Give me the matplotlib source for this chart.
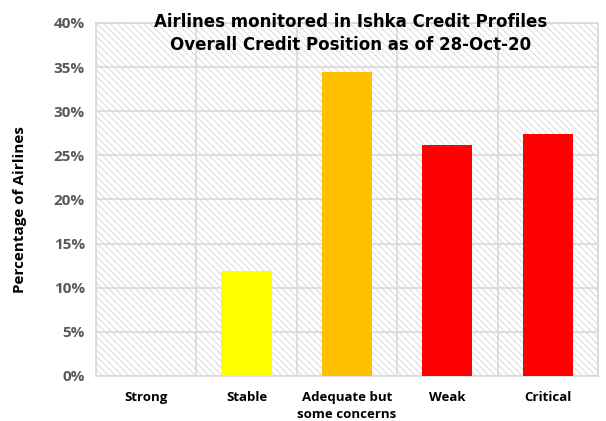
import matplotlib
matplotlib.use("Agg")
import matplotlib.pyplot as plt
from matplotlib.ticker import PercentFormatter, FixedLocator
from matplotlib.patches import Rectangle

categories = ["Strong", "Stable", "Adequate but\nsome concerns", "Weak", "Critical"]
values = [0.0, 11.9, 34.5, 26.2, 27.4]
colors = ["#FFFF00", "#FFFF00", "#FFC000", "#FF0000", "#FF0000"]
yticks = [0, 5, 10, 15, 20, 25, 30, 35, 40]

plt.rcParams['hatch.color'] = '#dedede'
plt.rcParams['hatch.linewidth'] = 0.8

fig = plt.figure(figsize=(6.06, 4.21), dpi=100)
ax = fig.add_axes([0.1584, 0.1069, 0.8284, 0.8385])

n = len(categories)
ax.set_xlim(-0.5, n - 0.5)
ax.set_ylim(0, 40)

# hatched background
bg = Rectangle((0, 0), 1, 1, transform=ax.transAxes, facecolor='white',
               edgecolor='#dedede', hatch='\\\\\\\\\\', linewidth=0, zorder=0)
ax.add_patch(bg)

x = list(range(n))
ax.bar(x, values, width=0.5, color=colors, zorder=3)

ax.set_yticks(yticks)
ax.yaxis.set_major_formatter(PercentFormatter(decimals=0))
ax.set_xticks(x)
ax.set_xticklabels(categories)
ax.xaxis.set_minor_locator(FixedLocator([i - 0.5 for i in range(n + 1)]))

ax.grid(axis='y', which='major', color='#d9d9d9', linewidth=1.2, zorder=1)
ax.grid(axis='x', which='minor', color='#d9d9d9', linewidth=1.2, zorder=1)
ax.set_axisbelow(True)
ax.tick_params(axis='both', which='both', length=0)
ax.tick_params(axis='y', pad=8, labelcolor='#595959')
ax.tick_params(axis='x', pad=11)

for lbl in ax.get_yticklabels():
    lbl.set_fontfamily('Open Sans')
    lbl.set_fontweight('bold')
    lbl.set_fontsize(11)
for lbl in ax.get_xticklabels():
    lbl.set_fontfamily('Open Sans')
    lbl.set_fontweight('bold')
    lbl.set_fontsize(9.5)
    lbl.set_linespacing(1.4)

for s in ax.spines.values():
    s.set_color('#d9d9d9')
    s.set_linewidth(1.2)

fig.text(0.033, 0.503, "Percentage of Airlines", rotation=90, ha='center', va='center',
         fontfamily='Open Sans', fontweight='bold', fontsize=11)

fig.text(0.579, 0.969, "Airlines monitored in Ishka Credit Profiles\nOverall Credit Position as of 28-Oct-20",
         ha='center', va='top', fontfamily='DejaVu Sans', fontweight='bold', fontsize=12,
         linespacing=1.35)

fig.savefig("out.png", dpi=100)
